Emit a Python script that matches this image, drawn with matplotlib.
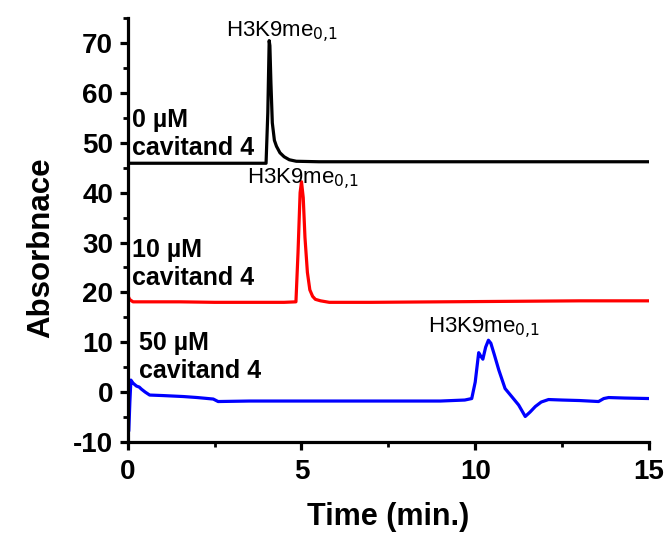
import matplotlib
matplotlib.use("Agg")
import matplotlib.pyplot as plt
from matplotlib.ticker import MultipleLocator

plt.rcParams['font.family'] = ['Liberation Sans', 'DejaVu Sans']
plt.rcParams['axes.unicode_minus'] = False

# Chromatogram traces (time in min, absorbance)
t_0uM = [0.0, 0.5, 1.5, 2.5, 3.5, 3.98, 4.03, 4.07, 4.09, 4.12, 4.16, 4.22, 4.28, 4.38,
         4.5, 4.65, 4.85, 5.5, 7.0, 9.0, 11.0, 13.0, 15.0]
a_0uM = [45.9, 45.9, 45.9, 45.9, 45.9, 45.9, 56.0, 70.5, 69.5, 62.0, 54.0, 50.5, 49.3, 48.0,
         47.2, 46.6, 46.3, 46.2, 46.2, 46.2, 46.2, 46.2, 46.2]

t_10uM = [0.0, 0.02, 0.05, 0.15, 0.5, 1.5, 2.5, 3.5, 4.5, 4.84, 4.9, 4.96, 5.0, 5.05,
          5.1, 5.17, 5.24, 5.32, 5.4, 5.55, 5.8, 7.0, 9.0, 11.0, 13.0, 15.0]
a_10uM = [16.5, 19.1, 18.6, 18.1, 18.1, 18.1, 18.0, 18.0, 18.0, 18.1, 28.0, 40.0, 42.2, 39.0,
          31.0, 24.0, 20.5, 19.2, 18.6, 18.3, 18.0, 18.0, 18.1, 18.2, 18.3, 18.3]

t_50uM = [0.03, 0.06, 0.09, 0.15, 0.25, 0.33, 0.39, 0.5, 0.63, 1.0, 1.6, 2.0, 2.46, 2.6,
          3.5, 5.0, 6.0, 7.5, 9.0, 9.7, 9.9, 10.0, 10.1, 10.16, 10.22, 10.3, 10.38,
          10.45, 10.55, 10.68, 10.86, 11.05, 11.25, 11.44, 11.58, 11.73, 11.9, 12.11,
          12.5, 13.0, 13.55, 13.7, 13.84, 14.3, 15.0]
a_50uM = [-7.6, -2.0, 2.4, 1.8, 1.2, 1.0, 0.6, 0.0, -0.6, -0.7, -0.9, -1.1, -1.4, -1.9,
          -1.8, -1.8, -1.8, -1.8, -1.8, -1.6, -1.3, 2.0, 7.9, 7.2, 6.6, 9.0, 10.4,
          9.8, 7.5, 4.4, 0.7, -0.9, -2.6, -4.9, -4.0, -2.9, -2.0, -1.5,
          -1.6, -1.7, -1.9, -1.3, -1.1, -1.2, -1.3]

peak_label = r'H3K9me$_{0{,}1}$'
conc_labels = ['0 µM\ncavitand 4', '10 µM\ncavitand 4', '50 µM\ncavitand 4']

fig = plt.figure(figsize=(6.69, 5.35), dpi=100)
ax = fig.add_axes([0.191, 0.174, 0.779, 0.792])

ax.plot(t_0uM, a_0uM, color='black', lw=2.3)
ax.plot(t_10uM, a_10uM, color='#ff0000', lw=2.3)
ax.plot(t_50uM, a_50uM, color='#0000ff', lw=2.3)

ax.set_xlim(0, 15)
ax.set_ylim(-10, 75)
ax.xaxis.set_major_locator(MultipleLocator(5))
ax.xaxis.set_minor_locator(MultipleLocator(2.5))
ax.yaxis.set_minor_locator(MultipleLocator(5))
ax.set_yticks(range(-10, 71, 10))

for s in ['top', 'right']:
    ax.spines[s].set_visible(False)
for s in ['left', 'bottom']:
    ax.spines[s].set_linewidth(2.3)

ax.tick_params(which='major', direction='out', length=5.5, width=2.3,
               labelsize=20, pad=5)
ax.tick_params(axis='x', which='major', pad=7)
ax.tick_params(which='minor', direction='out', length=3.5, width=2.0)
for lab in ax.get_xticklabels() + ax.get_yticklabels():
    lab.set_fontweight('bold')

ax.set_xlabel('Time (min.)', fontsize=22, fontweight='bold', labelpad=12)
ax.set_ylabel('Absorbnace', fontsize=22.5, fontweight='bold')
ax.yaxis.set_label_coords(-0.137, 0.458)

# Concentration labels
conc_x = [0.13, 0.13, 0.33]
conc_y = [47.6, 21.5, 2.8]
for x, y, s in zip(conc_x, conc_y, conc_labels):
    ax.text(x, y, s, fontsize=18, fontweight='bold',
            ha='left', va='baseline', linespacing=1.2)

# Peak labels
peak_x = [2.84, 3.42, 8.65]
peak_y = [71.2, 41.6, 11.8]
for x, y in zip(peak_x, peak_y):
    ax.text(x, y, peak_label, fontsize=16, ha='left', va='baseline')

fig.savefig('out.png', dpi=100)
